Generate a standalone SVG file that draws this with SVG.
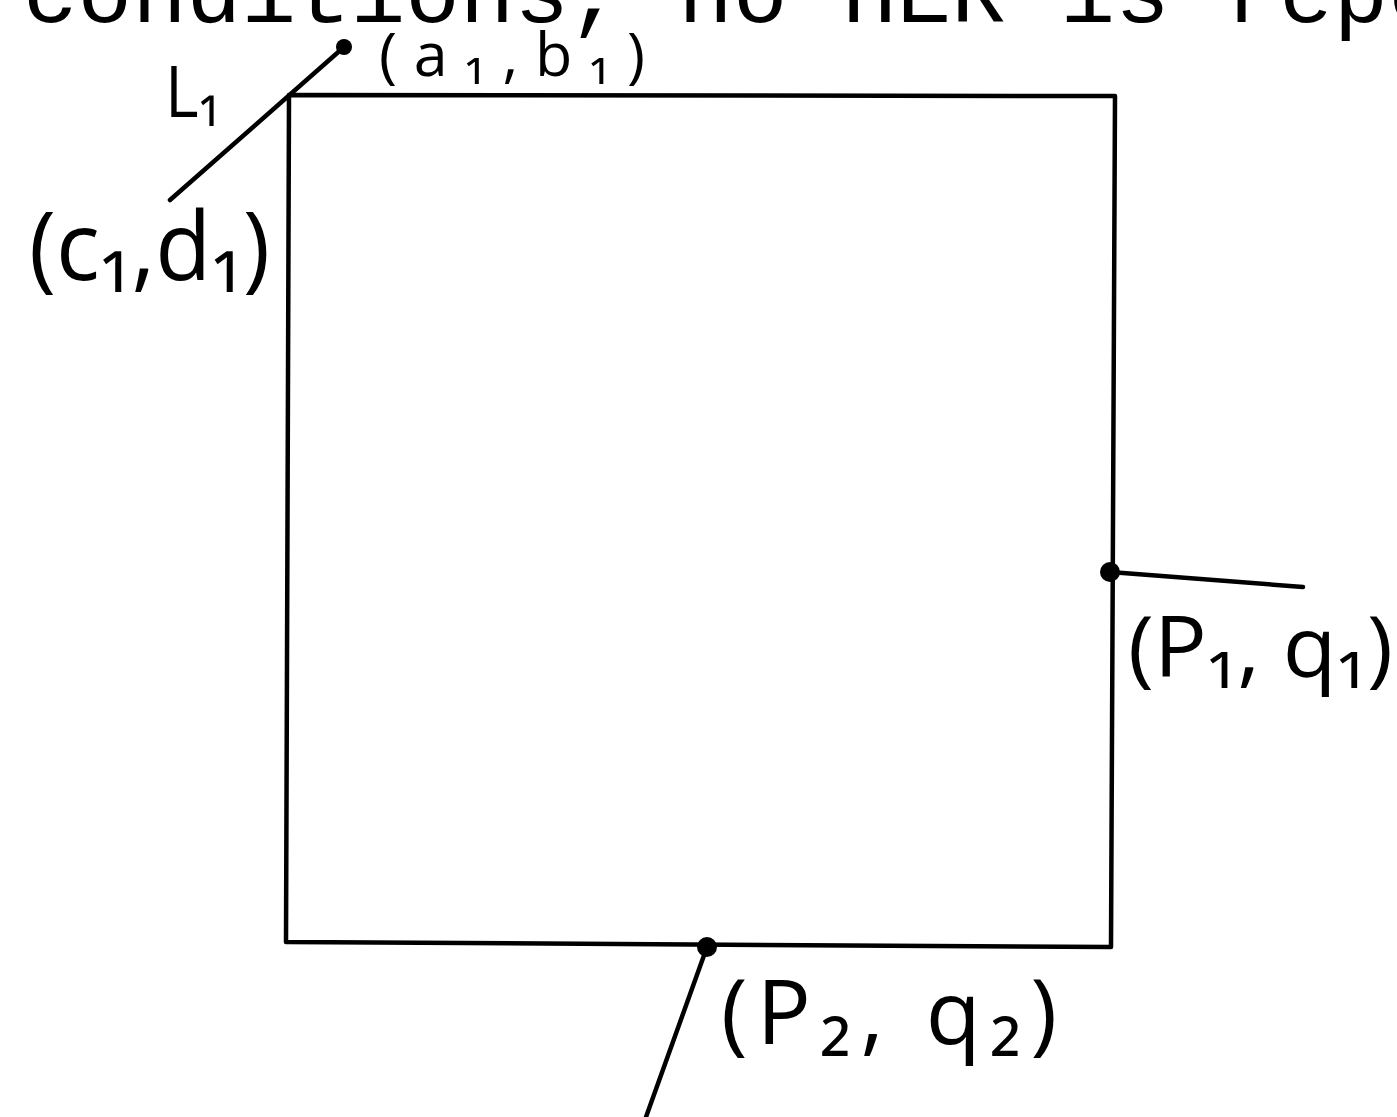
<svg xmlns="http://www.w3.org/2000/svg" width="1397" height="1117" viewBox="0 0 1397 1117">
<style>
.ln{stroke:#000;stroke-width:4.5;fill:none;stroke-linecap:round;stroke-linejoin:round}
.dot{fill:#000}
.hw{font-family:"Open Sans","DejaVu Sans",sans-serif;font-weight:400;fill:#000}
.tt{font-family:"Liberation Mono","DejaVu Sans Mono",monospace;fill:#000}
</style>
<rect width="1397" height="1117" fill="#fff"/>
<text class="tt" x="23" y="22" font-size="91">conditions, no HER is repo</text>
<g id="box">
<path class="ln" d="M289,95 L1115,96 L1111,947 L286,942 Z"/>
</g>
<g id="connectors">
<line class="ln" x1="344" y1="47" x2="170" y2="200"/>
<line class="ln" x1="1110" y1="572" x2="1303" y2="587"/>
<line class="ln" x1="707" y1="947" x2="646" y2="1117"/>
</g>
<g id="p-ab"><circle class="dot" cx="344" cy="47" r="8"/>
<text class="hw" x="379" y="76" font-size="61" textLength="266" lengthAdjust="spacing">(a₁,b₁)</text></g>
<g id="l1"><text class="hw" x="165" y="117" font-size="71" textLength="56" lengthAdjust="spacingAndGlyphs">L₁</text></g>
<g id="p-cd"><text class="hw" x="29" y="280" font-size="95" textLength="241" lengthAdjust="spacingAndGlyphs">(c₁,d₁)</text></g>
<g id="p-pq1"><circle class="dot" cx="1110" cy="572" r="10"/>
<text class="hw" x="1128" y="677" font-size="84" textLength="265" lengthAdjust="spacingAndGlyphs">(P₁, q₁)</text></g>
<g id="p-pq2"><circle class="dot" cx="707" cy="947" r="10"/>
<text class="hw" x="721" y="1044" font-size="90" textLength="336" lengthAdjust="spacing">(P₂, q₂)</text></g>
</svg>
